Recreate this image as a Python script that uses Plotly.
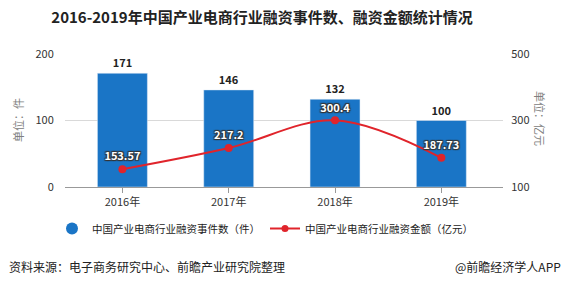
import plotly.graph_objects as go

years = ["2016年", "2017年", "2018年", "2019年"]
events = [171, 146, 132, 100]
amounts = [153.57, 217.2, 300.4, 187.73]
amount_labels = ["153.57", "217.2", "300.4", "187.73"]
left_ticks = [0, 100, 200]
right_ticks = [100, 300, 500]

BLUE = "#1a75c6"
RED = "#e0242b"
FONT = "Noto Sans CJK SC"

W, H = 566, 287
L, R, T, B = 65, 63, 54, 100
PW, PH = W - L - R, H - T - B

fig = go.Figure()
fig.add_trace(go.Bar(
    x=years, y=events, marker_color=BLUE, width=0.47,
    text=[str(v) for v in events], textposition="outside",
    textfont=dict(family=FONT, size=11, color="#222", weight="bold"),
    cliponaxis=False, showlegend=False,
))
fig.add_trace(go.Scatter(
    x=years, y=amounts, yaxis="y2", mode="lines+markers+text",
    line=dict(color=RED, width=2, shape="spline", smoothing=1.0),
    marker=dict(color=RED, size=8),
    text=amount_labels, textposition="top center",
    textfont=dict(family=FONT, size=11, color="white", weight="bold",
                  shadow="1px 1px 1px #333, -1px -1px 1px #333, 1px -1px 1px #333, -1px 1px 1px #333"),
    showlegend=False, cliponaxis=False,
))
# legend entries
fig.add_trace(go.Scatter(
    x=[None], y=[None], mode="markers", name="中国产业电商行业融资事件数（件）",
    marker=dict(color=BLUE, size=12, symbol="circle"),
))
fig.add_trace(go.Scatter(
    x=[None], y=[None], mode="lines+markers", name="中国产业电商行业融资金额（亿元）",
    line=dict(color=RED, width=2), marker=dict(color=RED, size=7), yaxis="y2",
))

fig.update_layout(
    width=W, height=H,
    margin=dict(l=L, r=R, t=T, b=B),
    paper_bgcolor="white", plot_bgcolor="white",
    font=dict(family=FONT, size=11, color="#444"),
    title=dict(text="<b>2016-2019年中国产业电商行业融资事件数、融资金额统计情况</b>",
               x=262 / W, xanchor="center", y=1 - 18 / H, yanchor="middle",
               font=dict(family=FONT, size=15, color="#222")),
    xaxis=dict(range=[-0.54, 3.58], showline=True, linecolor="#999", linewidth=1,
               ticks="outside", ticklen=5, tickcolor="#999",
               tickfont=dict(size=11, color="#333"), showgrid=False),
    yaxis=dict(range=[0, 200], tickvals=left_ticks, showgrid=True, gridcolor="#d9d9d9",
               zeroline=False, tickfont=dict(size=11, color="#333"), ticks="outside",
               ticklen=8, tickcolor="rgba(0,0,0,0)"),
    yaxis2=dict(range=[100, 500], tickvals=right_ticks, overlaying="y", side="right",
                showgrid=False, zeroline=False, tickfont=dict(size=11, color="#333"),
                ticks="outside", ticklen=5, tickcolor="rgba(0,0,0,0)"),
    legend=dict(orientation="h", x=(52 - L) / PW, xanchor="left",
                y=-(214 - (H - B)) / PH, yanchor="top",
                font=dict(size=10.5, color="#222"), itemwidth=30,
                tracegroupgap=0),
    annotations=[
        dict(text="单位：件", x=18, y=120, xanchor="center", yanchor="middle",
             showarrow=False, textangle=-90, font=dict(size=11, color="#808080")),
        dict(text="单位：亿元", x=540, y=118, xanchor="center", yanchor="middle",
             showarrow=False, textangle=90, font=dict(size=11, color="#808080")),
        dict(text="资料来源：电子商务研究中心、前瞻产业研究院整理", x=7, y=266,
             xanchor="left", yanchor="middle", showarrow=False,
             font=dict(size=12, color="#222")),
        dict(text="@前瞻经济学人APP", x=563, y=266,
             xanchor="right", yanchor="middle", showarrow=False,
             font=dict(size=12, color="#222")),
    ],
)
# convert pixel-based annotations to paper coords
new_ann = []
for a in fig.layout.annotations:
    a = a.to_plotly_json()
    a["xref"] = "paper"; a["yref"] = "paper"
    a["x"] = (a["x"] - L) / PW
    a["y"] = (H - B - a["y"]) / PH
    new_ann.append(a)
fig.layout.annotations = new_ann

fig.write_html("out.html")
